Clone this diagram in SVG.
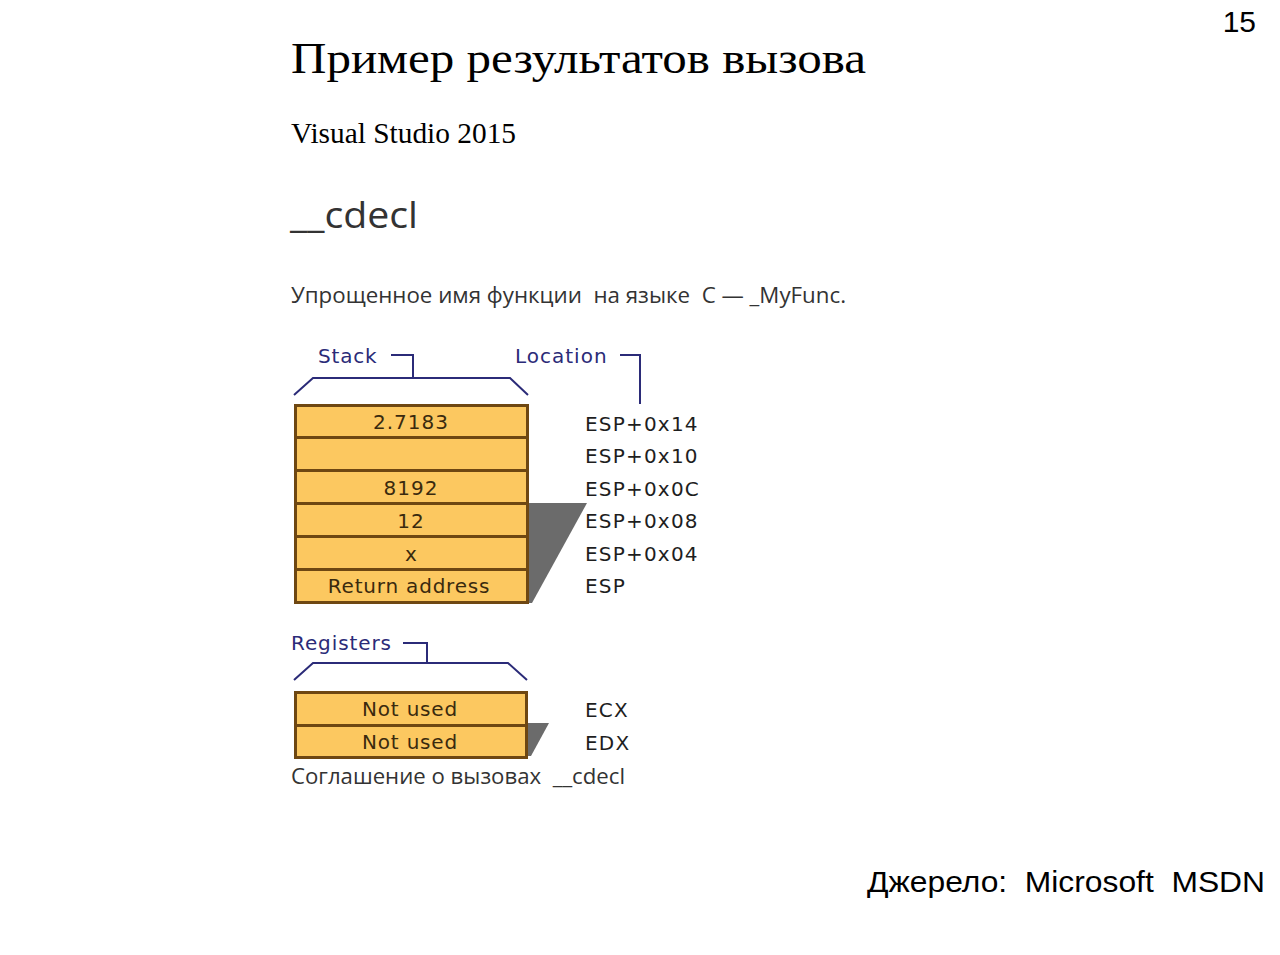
<svg xmlns="http://www.w3.org/2000/svg" width="1280" height="955" viewBox="0 0 1280 955">
  <style>
    .title { font-family: "Liberation Serif", "Times New Roman", serif; fill: #000; }
    .ui { font-family: "Open Sans", "Noto Sans", sans-serif; fill: #333; }
    .diag { font-family: "DejaVu Sans", Verdana, sans-serif; font-size: 20px; }
    .hdr { fill: #2b2b78; }
    .cell { fill: #3a2a0e; text-anchor: middle; }
    .loc { fill: #1e1e1e; letter-spacing: 1.2px; }
    .box { fill: #fcc860; stroke: #6e4712; stroke-width: 3; }
    .shadow { fill: #6b6b6b; }
    .bracket { fill: none; stroke: #2b2b78; stroke-width: 2; }
    .arial { font-family: "Liberation Sans", Arial, sans-serif; fill: #000; }
  </style>
  <rect width="1280" height="955" fill="#fff"/>

  <text class="arial" x="1256" y="32" font-size="30" text-anchor="end">15</text>

  <g id="heading">
    <text class="title" x="291" y="73" font-size="45" textLength="575" lengthAdjust="spacingAndGlyphs">Пример результатов вызова</text>
    <text class="title" x="291" y="143" font-size="29" textLength="225" lengthAdjust="spacingAndGlyphs">Visual Studio 2015</text>
    <text class="ui" x="290" y="228" font-size="37" fill="#111" textLength="128" lengthAdjust="spacingAndGlyphs">__cdecl</text>
    <text class="ui" x="291" y="303" font-size="22" xml:space="preserve" textLength="555" lengthAdjust="spacingAndGlyphs">Упрощенное имя функции  на языке  C — _MyFunc.</text>
  </g>

  <!-- bracket lines over the stack and register blocks -->
  <g id="connectors">
    <path class="bracket" d="M294,395 L313,378 L510,378 L528,395 M413,378 L413,355 L391,355"/>
    <path class="bracket" d="M620,355 L640,355 L640,404"/>
    <path class="bracket" d="M294,680 L313,663 L508,663 L527,680 M427,663 L427,643 L403,643"/>
  </g>

  <g id="stack-header" class="diag">
    <text class="hdr" x="318" y="363" letter-spacing="0.8">Stack</text>
    <text class="hdr" x="515" y="363" letter-spacing="1">Location</text>
  </g>

  <g id="stack">
    <polygon class="shadow" points="527,503 587,503 532,603 527,603"/>
    <rect class="box" x="295.5" y="405.5" width="232" height="32"/>
    <rect class="box" x="295.5" y="437.5" width="232" height="33"/>
    <rect class="box" x="295.5" y="470.5" width="232" height="33"/>
    <rect class="box" x="295.5" y="503.5" width="232" height="33"/>
    <rect class="box" x="295.5" y="536.5" width="232" height="33"/>
    <rect class="box" x="295.5" y="569.5" width="232" height="33"/>
    <g class="diag cell">
      <text x="411" y="429" letter-spacing="1">2.7183</text>
      <text x="411" y="495" letter-spacing="1">8192</text>
      <text x="411" y="528" letter-spacing="1">12</text>
      <text x="411" y="561">x</text>
      <text x="409" y="593" letter-spacing="0.8">Return address</text>
    </g>
  </g>

  <g id="locations" class="diag loc">
    <text x="585" y="431">ESP+0x14</text>
    <text x="585" y="463">ESP+0x10</text>
    <text x="585" y="496">ESP+0x0C</text>
    <text x="585" y="528">ESP+0x08</text>
    <text x="585" y="561">ESP+0x04</text>
    <text x="585" y="593">ESP</text>
  </g>

  <g id="registers-header" class="diag">
    <text class="hdr" x="291" y="650" letter-spacing="0.9">Registers</text>
  </g>

  <g id="registers">
    <polygon class="shadow" points="526,723 549,723 531,756 526,756"/>
    <rect class="box" x="295.5" y="692.5" width="231" height="33"/>
    <rect class="box" x="295.5" y="725.5" width="231" height="32"/>
    <g class="diag cell">
      <text x="410" y="716" letter-spacing="0.8">Not used</text>
      <text x="410" y="749" letter-spacing="0.8">Not used</text>
    </g>
    <g class="diag loc">
      <text x="585" y="717">ECX</text>
      <text x="585" y="750">EDX</text>
    </g>
  </g>

  <text class="ui" x="291" y="784" font-size="22" xml:space="preserve" textLength="334" lengthAdjust="spacingAndGlyphs">Соглашение о вызовах  __cdecl</text>

  <text class="arial" x="867" y="892" font-size="30" xml:space="preserve" textLength="398" lengthAdjust="spacingAndGlyphs">Джерело:  Microsoft  MSDN</text>
</svg>
